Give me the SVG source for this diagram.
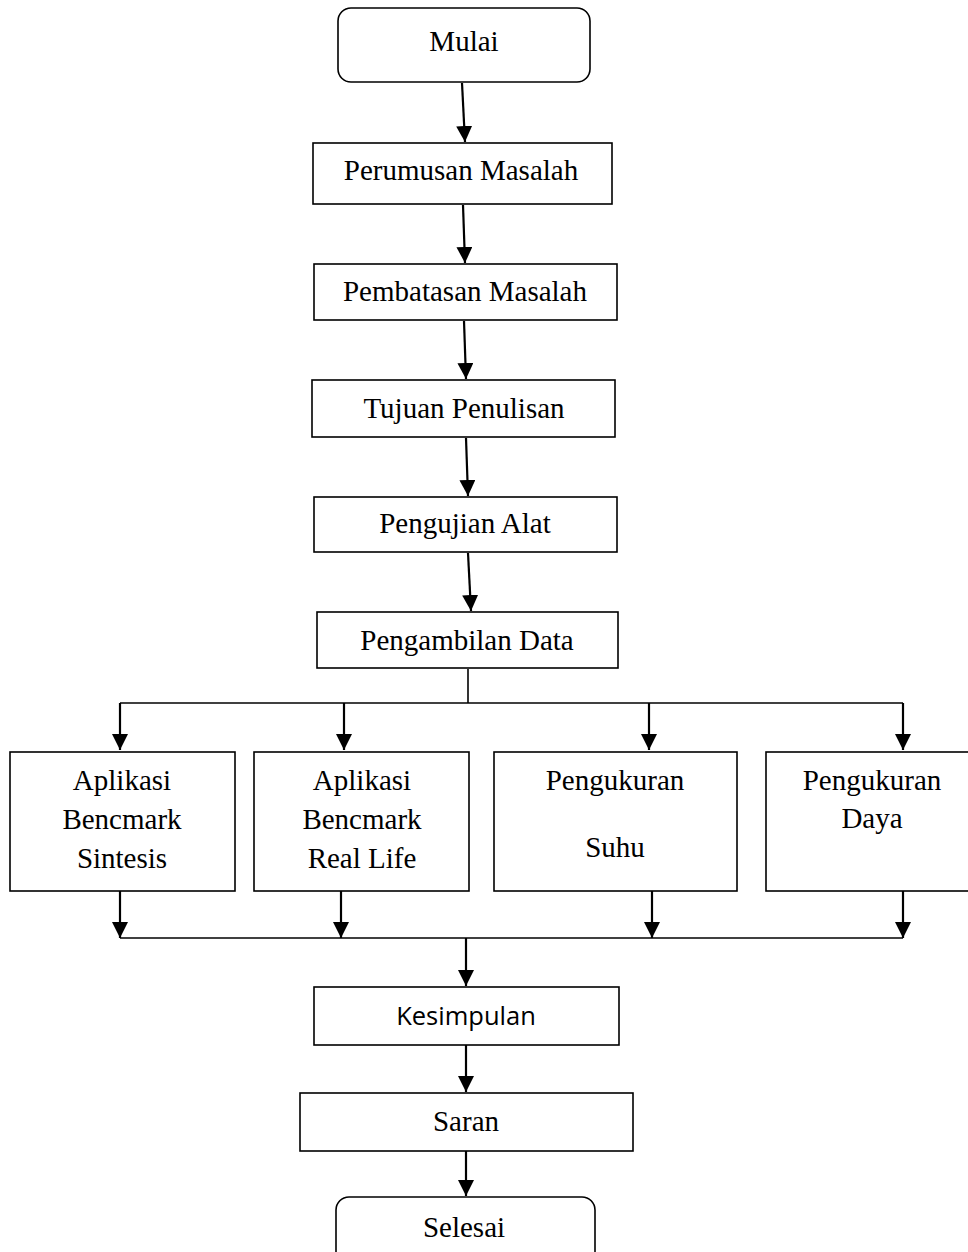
<svg xmlns="http://www.w3.org/2000/svg" width="968" height="1252" viewBox="0 0 968 1252">
  <style>
    .box { fill: #fff; stroke: #000; stroke-width: 1.6; }
    .lbl { font-family: "Liberation Serif", "Times New Roman", serif; font-size: 29px; fill: #000; text-anchor: middle; }
    .sans { font-family: "Open Sans", "Noto Sans", sans-serif; font-size: 25.5px; fill: #000; text-anchor: middle; }
    .ln { fill: none; stroke: #000; stroke-width: 2.2; }
    .thin { fill: none; stroke: #000; stroke-width: 1.6; }
  </style>
  <defs>
    <marker id="arrow" markerUnits="userSpaceOnUse" markerWidth="16" markerHeight="16" viewBox="0 0 16 16" refX="16" refY="8" orient="auto">
      <path d="M0,0 L16,8 L0,16 z" fill="#000"/>
    </marker>
  </defs>
  <rect width="968" height="1252" fill="#fff"/>

  <!-- connectors -->
  <g id="connectors">
    <line class="ln" x1="462" y1="83" x2="465" y2="142" marker-end="url(#arrow)"/>
    <line class="ln" x1="463" y1="205" x2="465" y2="263" marker-end="url(#arrow)"/>
    <line class="ln" x1="464" y1="321" x2="466" y2="379" marker-end="url(#arrow)"/>
    <line class="ln" x1="466" y1="438" x2="468" y2="496" marker-end="url(#arrow)"/>
    <line class="ln" x1="468" y1="553" x2="471" y2="611" marker-end="url(#arrow)"/>
    <!-- branch from Pengambilan Data -->
    <line class="thin" x1="468" y1="669" x2="468" y2="703"/>
    <line class="thin" x1="120" y1="703" x2="903" y2="703"/>
    <line class="ln" x1="120" y1="703" x2="120" y2="750" marker-end="url(#arrow)"/>
    <line class="ln" x1="344" y1="703" x2="344" y2="750" marker-end="url(#arrow)"/>
    <line class="ln" x1="649" y1="703" x2="649" y2="750" marker-end="url(#arrow)"/>
    <line class="ln" x1="903" y1="703" x2="903" y2="750" marker-end="url(#arrow)"/>
    <!-- merge -->
    <line class="ln" x1="120" y1="891" x2="120" y2="938" marker-end="url(#arrow)"/>
    <line class="ln" x1="341" y1="891" x2="341" y2="938" marker-end="url(#arrow)"/>
    <line class="ln" x1="652" y1="891" x2="652" y2="938" marker-end="url(#arrow)"/>
    <line class="ln" x1="903" y1="891" x2="903" y2="938" marker-end="url(#arrow)"/>
    <line class="thin" x1="120" y1="938" x2="903" y2="938"/>
    <line class="ln" x1="466" y1="938" x2="466" y2="986" marker-end="url(#arrow)"/>
    <line class="ln" x1="466" y1="1045" x2="466" y2="1092" marker-end="url(#arrow)"/>
    <line class="ln" x1="466" y1="1151" x2="466" y2="1196" marker-end="url(#arrow)"/>
  </g>

  <g id="mulai">
    <rect class="box" x="338" y="8" width="252" height="74" rx="13"/>
    <text class="lbl" x="464" y="51">Mulai</text>
  </g>
  <g id="perumusan">
    <rect class="box" x="313" y="143" width="299" height="61"/>
    <text class="lbl" x="461" y="180">Perumusan Masalah</text>
  </g>
  <g id="pembatasan">
    <rect class="box" x="314" y="264" width="303" height="56"/>
    <text class="lbl" x="465" y="301">Pembatasan Masalah</text>
  </g>
  <g id="tujuan">
    <rect class="box" x="312" y="380" width="303" height="57"/>
    <text class="lbl" x="464" y="418">Tujuan Penulisan</text>
  </g>
  <g id="pengujian">
    <rect class="box" x="314" y="497" width="303" height="55"/>
    <text class="lbl" x="465" y="533">Pengujian Alat</text>
  </g>
  <g id="pengambilan">
    <rect class="box" x="317" y="612" width="301" height="56"/>
    <text class="lbl" x="467" y="650">Pengambilan Data</text>
  </g>
  <g id="sintesis">
    <rect class="box" x="10" y="752" width="225" height="139"/>
    <text class="lbl" x="122" y="790">Aplikasi</text>
    <text class="lbl" x="122" y="829">Bencmark</text>
    <text class="lbl" x="122" y="868">Sintesis</text>
  </g>
  <g id="reallife">
    <rect class="box" x="254" y="752" width="215" height="139"/>
    <text class="lbl" x="362" y="790">Aplikasi</text>
    <text class="lbl" x="362" y="829">Bencmark</text>
    <text class="lbl" x="362" y="868">Real Life</text>
  </g>
  <g id="suhu">
    <rect class="box" x="494" y="752" width="243" height="139"/>
    <text class="lbl" x="615" y="790">Pengukuran</text>
    <text class="lbl" x="615" y="857">Suhu</text>
  </g>
  <g id="daya">
    <rect class="box" x="766" y="752" width="210" height="139"/>
    <text class="lbl" x="872" y="790">Pengukuran</text>
    <text class="lbl" x="872" y="828">Daya</text>
  </g>
  <g id="kesimpulan">
    <rect class="box" x="314" y="987" width="305" height="58"/>
    <text class="sans" x="466" y="1025">Kesimpulan</text>
  </g>
  <g id="saran">
    <rect class="box" x="300" y="1093" width="333" height="58"/>
    <text class="lbl" x="466" y="1131">Saran</text>
  </g>
  <g id="selesai">
    <rect class="box" x="336" y="1197" width="259" height="70" rx="13"/>
    <text class="lbl" x="464" y="1237">Selesai</text>
  </g>
</svg>
